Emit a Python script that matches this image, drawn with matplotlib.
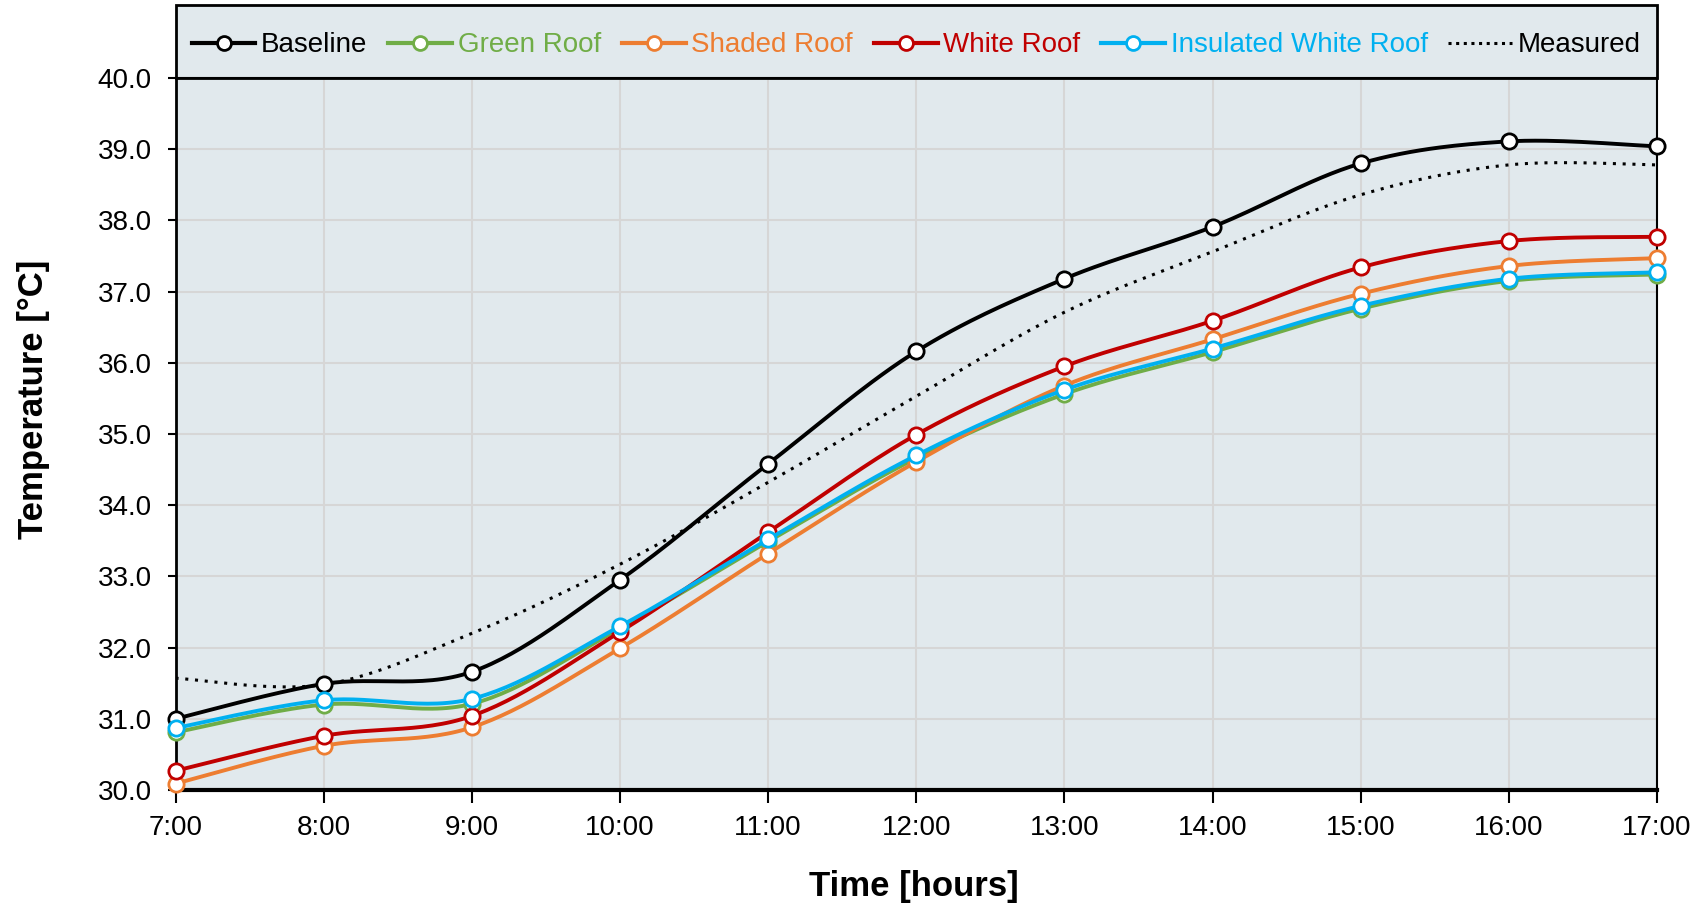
import numpy as np
import matplotlib
matplotlib.use("Agg")
import matplotlib.pyplot as plt
from matplotlib.lines import Line2D
import matplotlib.patches as patches

# hourly readings
hours = ["7:00", "8:00", "9:00", "10:00", "11:00", "12:00",
         "13:00", "14:00", "15:00", "16:00", "17:00"]
baseline = [31.00, 31.49, 31.66, 32.95, 34.58, 36.16, 37.18, 37.91, 38.80, 39.11, 39.04]
green_roof = [30.81, 31.20, 31.21, 32.27, 33.49, 34.66, 35.56, 36.15, 36.76, 37.15, 37.24]
shaded_roof = [30.09, 30.62, 30.88, 31.99, 33.32, 34.61, 35.68, 36.33, 36.97, 37.36, 37.47]
white_roof = [30.27, 30.76, 31.04, 32.22, 33.62, 34.99, 35.95, 36.59, 37.34, 37.71, 37.77]
insulated_white = [30.87, 31.26, 31.28, 32.30, 33.52, 34.70, 35.62, 36.20, 36.80, 37.18, 37.27]
measured = [31.57, 31.48, 32.20, 33.17, 34.32, 35.53, 36.71, 37.56, 38.36, 38.78, 38.78]

plt.rcParams["font.family"] = ["Liberation Sans", "DejaVu Sans"]


def smooth(x, y, n=30):
    """Catmull-Rom curve through the points, like Excel's smoothed line"""
    x = np.asarray(x, float)
    y = np.asarray(y, float)
    px = np.concatenate([[x[0]], x, [x[-1]]])
    py = np.concatenate([[y[0]], y, [y[-1]]])
    xs, ys = [], []
    t = np.linspace(0, 1, n, endpoint=False)
    for i in range(1, len(px) - 2):
        p0, p1, p2, p3 = px[i - 1:i + 3]
        q0, q1, q2, q3 = py[i - 1:i + 3]
        for a, b, c, d, out in ((p0, p1, p2, p3, xs), (q0, q1, q2, q3, ys)):
            out.extend(0.5 * (2 * b + (-a + c) * t + (2 * a - 5 * b + 4 * c - d) * t ** 2
                              + (-a + 3 * b - 3 * c + d) * t ** 3))
    xs.append(x[-1])
    ys.append(y[-1])
    return np.array(xs), np.array(ys)


x = np.arange(len(hours))

fig = plt.figure(figsize=(16.99, 9.07), dpi=100)
ax = fig.add_axes([0.1033, 0.129, 0.872, 0.785])
ax.set_facecolor("#E1E9ED")

series = [
    ("Baseline", baseline, "#000000"),
    ("Green Roof", green_roof, "#70AD47"),
    ("Shaded Roof", shaded_roof, "#ED7D31"),
    ("White Roof", white_roof, "#C00000"),
    ("Insulated White Roof", insulated_white, "#00B0F0"),
]

mx, my = smooth(x, measured)
ax.plot(mx, my, color="black", lw=2.2, ls=(0, (1, 2.2)), zorder=3)

handles = []
for i, (name, vals, col) in enumerate(series):
    sx, sy = smooth(x, vals)
    ax.plot(sx, sy, color=col, lw=2.8, zorder=4 + i, solid_capstyle="round")
    ax.plot(x, vals, ls="none", marker="o", ms=11, mfc="white", mec=col,
            mew=2.0, zorder=4 + i, clip_on=False)
    handles.append(Line2D([], [], color=col, lw=3, marker="o", ms=10,
                          mfc="white", mec=col, mew=2))
handles.append(Line2D([], [], color="black", lw=2.2, ls=(0, (1, 1.5))))

ax.set_xlim(0, len(hours) - 1)
ax.set_ylim(30, 40)
ax.set_xticks(x)
ax.set_xticklabels(hours)
ax.set_yticks(np.arange(30, 40.1, 1.0))
ax.set_yticklabels([f"{v:.1f}" for v in np.arange(30, 40.1, 1.0)])
ax.grid(True, color="#D6D6D6", lw=1.5)
ax.set_axisbelow(True)

ax.tick_params(axis="x", labelsize=20, length=9, width=1.5, pad=9, direction="out")
ax.tick_params(axis="y", labelsize=20, length=6, width=1.5, pad=11, direction="out")

for s in ["left", "right", "top"]:
    ax.spines[s].set_color("black")
ax.spines["left"].set_linewidth(2)
ax.spines["right"].set_linewidth(1.5)
ax.spines["top"].set_linewidth(1.5)
ax.spines["bottom"].set_linewidth(3)

# legend box sitting on top of the plot
box_h = 72.6 / 712
ax.add_patch(patches.Rectangle((0, 1), 1, box_h, transform=ax.transAxes,
                               facecolor="#E1E9ED", edgecolor="black", lw=2,
                               clip_on=False, zorder=1))
leg = ax.legend(handles, [s[0] for s in series] + ["Measured"],
                loc="center", bbox_to_anchor=(0, 0.995, 1, box_h), ncol=6,
                frameon=False, fontsize=20, handlelength=2.3,
                handletextpad=0.2, columnspacing=0.75, borderaxespad=0)
for txt, (_, _, col) in zip(leg.get_texts(), series + [("", None, "black")]):
    txt.set_color(col)

fig.text(0.538, 0.023, "Time [hours]", ha="center", va="center",
         fontsize=25, fontweight="bold")
fig.text(0.020, 0.56, "Temperature [°C]", ha="center", va="center",
         rotation=90, fontsize=25, fontweight="bold")

fig.savefig("out.png", dpi=100)
